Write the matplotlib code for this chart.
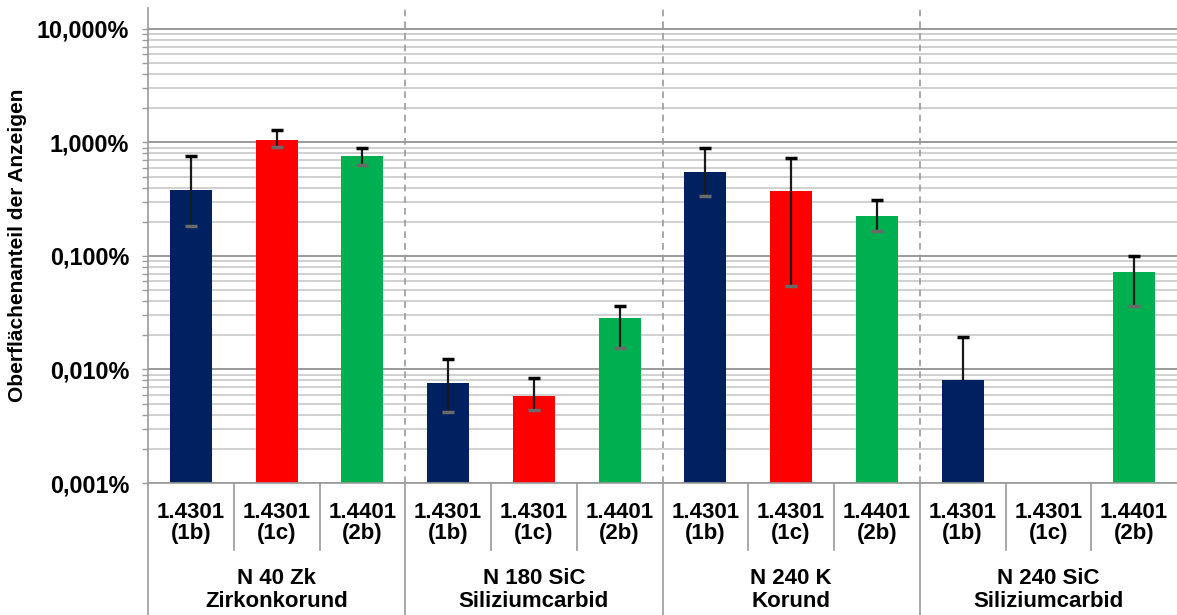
import numpy as np
import matplotlib
matplotlib.use('Agg')
import matplotlib.pyplot as plt
from matplotlib.ticker import LogLocator, FuncFormatter, NullFormatter

plt.rcParams['font.family'] = ['Liberation Sans', 'DejaVu Sans']
plt.rcParams['font.weight'] = 'bold'

# data (percent of surface)
groups = ['N 40 Zk\nZirkonkorund', 'N 180 SiC\nSiliziumcarbid',
          'N 240 K\nKorund', 'N 240 SiC\nSiliziumcarbid']
materials = ['1.4301\n(1b)', '1.4301\n(1c)', '1.4401\n(2b)']
colors = ['#002060', '#FF0000', '#00B050']

vals_1b = [0.381, 0.0076, 0.550, 0.0081]
vals_1c = [1.052, 0.0058, 0.374, np.nan]
vals_2b = [0.760, 0.0284, 0.225, 0.0723]

hi_1b = [0.765, 0.0124, 0.900, 0.0195]
hi_1c = [1.289, 0.0084, 0.735, np.nan]
hi_2b = [0.895, 0.0365, 0.311, 0.1006]

lo_1b = [0.185, 0.0042, 0.338, np.nan]
lo_1c = [0.907, 0.00437, 0.0541, np.nan]
lo_2b = [0.630, 0.0156, 0.166, 0.0365]

series = [(vals_1b, hi_1b, lo_1b), (vals_1c, hi_1c, lo_1c), (vals_2b, hi_2b, lo_2b)]

fig = plt.figure(figsize=(11.77, 6.15), dpi=100)
ax = fig.add_axes([148 / 1177, 132 / 615, 1029 / 1177, 475 / 615])

n_mat = len(materials)
for s, (vals, hi, lo) in enumerate(series):
    x = np.arange(len(groups)) * n_mat + s
    vals = np.array(vals)
    ax.bar(x, vals, width=0.49, color=colors[s], zorder=2)
    hi = np.array(hi)
    lo = np.array(lo)
    lo_line = np.where(np.isnan(lo), vals, lo)
    ax.vlines(x, lo_line, hi, color='#1a1a1a', lw=1.6, zorder=3)
    ax.plot(x, hi, ls='none', marker='_', ms=9, mew=2.5, color='black', zorder=4)
    ax.plot(x, lo, ls='none', marker='_', ms=8, mew=2.5, color='#6a6a6a', zorder=4)

ax.set_yscale('log')
ax.set_ylim(0.001, 15.3)
ax.set_xlim(-0.5, len(groups) * n_mat - 0.5)
ax.yaxis.set_major_locator(LogLocator(base=10))
ax.yaxis.set_minor_locator(LogLocator(base=10, subs=np.arange(2, 10)))
ax.yaxis.set_major_formatter(FuncFormatter(lambda v, p: ('%.3f%%' % v).replace('.', ',')))
ax.yaxis.set_minor_formatter(NullFormatter())
ax.set_axisbelow(True)
ax.grid(True, which='major', axis='y', color='#9a9a9a', lw=1.4)
ax.grid(True, which='minor', axis='y', color='#c8c8c8', lw=1.2)
ax.tick_params(axis='y', which='both', length=4.5, width=1, color='#9a9a9a',
               direction='out', pad=9, labelsize=16.8)
ax.set_xticks([])

for side in ['top', 'right']:
    ax.spines[side].set_visible(False)
for side in ['left', 'bottom']:
    ax.spines[side].set_color('#9a9a9a')
    ax.spines[side].set_linewidth(1.2)

# dashed group separators
for g in range(1, len(groups)):
    ax.axvline(g * n_mat - 0.5, color='#9a9a9a', lw=1.2, ls=(0, (4, 3)), zorder=1)

# category table below axis
trans = ax.get_xaxis_transform()
ax_h = 475.0
for g in range(len(groups)):
    ax.plot([g * n_mat - 0.5] * 2, [0, -132 / ax_h], transform=trans,
            color='#9a9a9a', lw=1.2, clip_on=False)
    for s in range(1, n_mat):
        ax.plot([g * n_mat + s - 0.5] * 2, [0, -67 / ax_h], transform=trans,
                color='#9a9a9a', lw=1.2, clip_on=False)
    for s in range(n_mat):
        ax.text(g * n_mat + s, -39.5 / ax_h, materials[s], transform=trans,
                ha='center', va='center', fontsize=16, linespacing=1.0)
    ax.text(g * n_mat + 1, -107 / ax_h, groups[g], transform=trans,
            ha='center', va='center', fontsize=16, linespacing=1.12)

fig.text(18 / 1177, 1 - 245 / 615, 'Oberflächenanteil der Anzeigen', rotation=90,
         ha='center', va='center', fontsize=15)

fig.savefig('out.png', dpi=100)
